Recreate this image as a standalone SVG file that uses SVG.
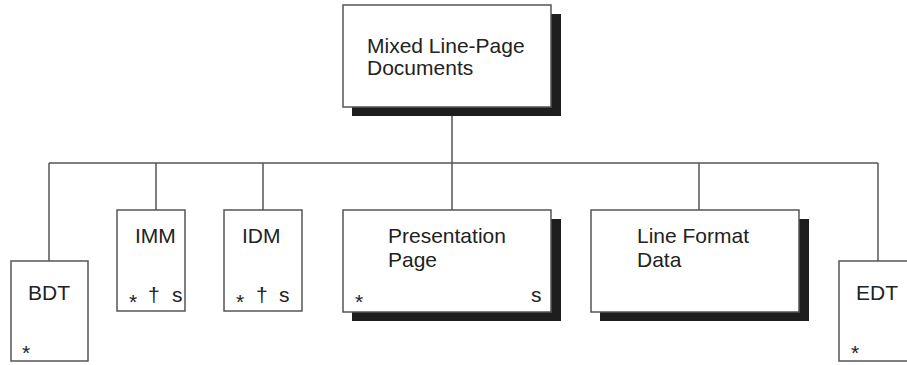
<svg xmlns="http://www.w3.org/2000/svg" width="907" height="365" viewBox="0 0 907 365">
<style>
.box{fill:#fff;stroke:#555;stroke-width:1.5}
.sh{fill:#1e1e1e}
.ln{stroke:#555;stroke-width:1.5;fill:none}
text{font-family:"Liberation Sans",Arial,Helvetica,sans-serif;font-size:21px;fill:#222}
</style>
<rect width="907" height="365" fill="#fff"/>
<g id="connectors">
<path class="ln" d="M452 116V163M49 163H878M49 163V261M156 163V210M263 163V210M452 163V210M699 163V210M878 163V261"/>
</g>
<g id="mixed">
<rect class="sh" x="352" y="14" width="209" height="102"/>
<rect class="box" x="343" y="5" width="208" height="102"/>
<text x="367" y="53">Mixed Line-Page</text>
<text x="367" y="75">Documents</text>
</g>
<g id="bdt">
<rect class="box" x="11" y="261" width="77" height="100"/>
<text x="28" y="300">BDT</text>
<text x="22" y="360">*</text>
</g>
<g id="imm">
<rect class="box" x="117" y="210" width="68" height="101"/>
<text x="135" y="243">IMM</text>
<text x="129" y="309">*</text>
<text x="148" y="302">†</text>
<text x="172" y="302">s</text>
</g>
<g id="idm">
<rect class="box" x="224" y="210" width="78" height="101"/>
<text x="242" y="243">IDM</text>
<text x="236" y="309">*</text>
<text x="256" y="302">†</text>
<text x="279" y="302">s</text>
</g>
<g id="presentation">
<rect class="sh" x="352" y="219" width="209" height="102"/>
<rect class="box" x="343" y="210" width="208" height="102"/>
<text x="388" y="243">Presentation</text>
<text x="388" y="267">Page</text>
<text x="355" y="309">*</text>
<text x="531" y="302">s</text>
</g>
<g id="lineformat">
<rect class="sh" x="600" y="219" width="209" height="102"/>
<rect class="box" x="591" y="210" width="208" height="102"/>
<text x="637" y="243">Line Format</text>
<text x="637" y="267">Data</text>
</g>
<g id="edt">
<rect class="box" x="839" y="261" width="80" height="100"/>
<text x="856" y="300">EDT</text>
<text x="851" y="360">*</text>
</g>
</svg>
